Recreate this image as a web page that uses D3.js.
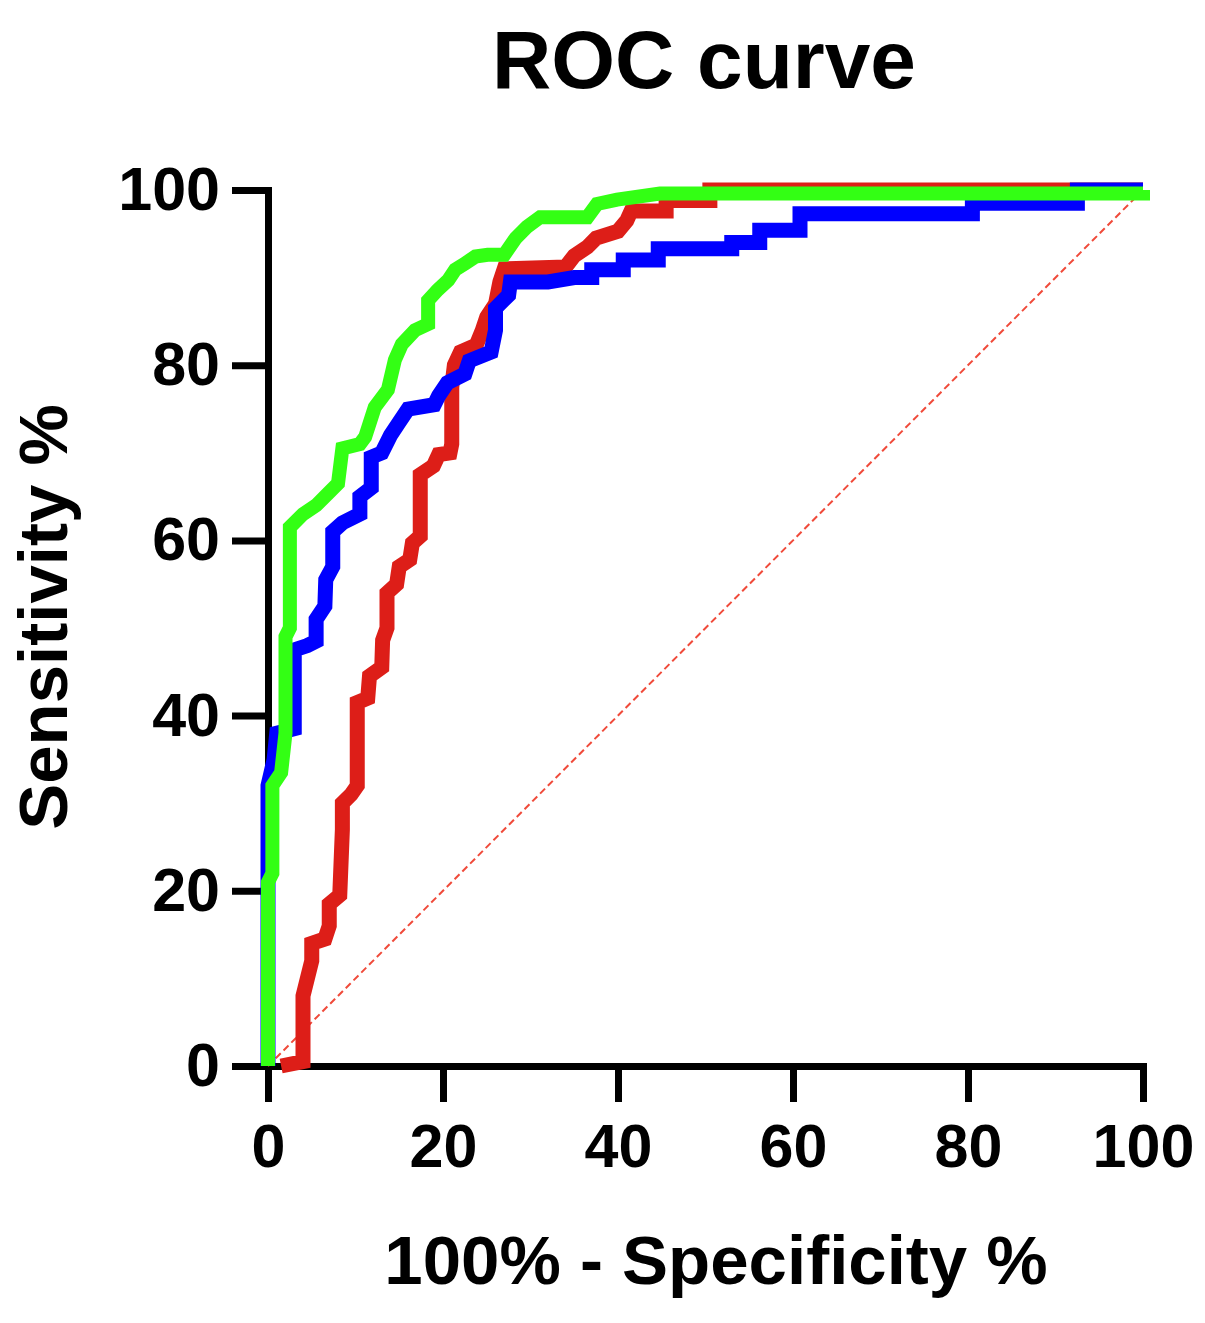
<!DOCTYPE html>
<html lang="en">
<head>
<meta charset="UTF-8">
<title>ROC curve</title>
<script src="https://cdn.jsdelivr.net/npm/d3@7/dist/d3.min.js"></script>
<style>
    body{margin:0;background:#fff;}
    svg text{font-family:"Liberation Sans",Arial,Helvetica,sans-serif;font-weight:bold;fill:#000;}
</style>
</head>
<body>
<svg id="chart"></svg>
<script>
    // ticks
    var xTicks=[0,20,40,60,80,100];
    var yTicks=[0,20,40,60,80,100];

    // [100% - specificity, sensitivity]
    var redPoints=[[1.5,0],[4,0.5],[4,8],[4.5,10],[5,12],[5,14],[6.5,14.5],[7,16],[7,18.5],[8.2,19.5],
        [8.5,27],[8.5,30],[9.5,31],[10.2,32],[10.2,41.5],[11.4,42],[11.6,44.5],[13,45.5],[13.1,48.6],
        [13.6,50],[13.6,54],[14.7,55],[15,57],[16.2,57.8],[16.5,59.7],[17.4,60.5],[17.4,67.5],[18.9,68.5],
        [19.5,69.8],[20.8,70],[21,71],[21,77.5],[21.3,80],[22,81.5],[23.8,82.3],[24.5,84],[25,85.5],
        [26,87],[26.5,89.5],[27,91],[34,91.2],[35,92.5],[36.5,93.5],[37.5,94.5],[40,95.3],[41,96.5],
        [41.5,97.6],[45.5,97.6],[45.5,98.8],[50.5,98.8],[50.5,100],[100,100]];
    var bluePoints=[[0,0],[0,21],[0,32],[0.7,35],[1,38],[3,38.5],[3,47.5],[4.5,48],[5.5,48.5],[5.5,51],
        [6.5,52.5],[6.6,55.5],[7.4,57],[7.4,61],[8.5,62],[10.5,63],[10.5,65],[11.8,66],[11.8,69.5],
        [13,70],[14,72],[15,73.5],[16,75],[19,75.5],[19.5,76.5],[20.5,78],[22.5,79],[23,80.5],[25.5,81.5],
        [26,84],[26,86.5],[27.5,88],[27.7,89.5],[32,89.5],[35,90],[37,90],[37,90.9],[40.6,90.9],[40.6,92],
        [44.6,92],[44.6,93.3],[53,93.3],[53,94],[56.2,94],[56.2,95.4],[60.8,95.4],[60.8,97.3],[80.5,97.3],
        [80.5,98.5],[92.5,98.5],[92.5,100],[100,100]];
    var greenPoints=[[0,0],[0,21],[0.5,22],[0.5,32],[1.5,33.5],[2,38],[2,49],[2.5,50],[2.5,61.5],[4,63],
        [5.5,64],[7,65.5],[8,66.5],[8.5,70.5],[10.5,71],[11.1,71.8],[12.2,75.2],[13.7,77.2],[14.5,80.6],
        [15.3,82.4],[16.8,84],[18.3,84.7],[18.3,87.4],[19.4,88.6],[20.6,89.7],[21.4,90.9],[22.5,91.6],
        [23.7,92.4],[25.1,92.6],[27,92.6],[28.3,94.5],[29.6,95.8],[31.1,96.9],[36.5,96.9],[37.6,98.4],
        [39.9,98.9],[44.8,99.6],[100,99.6],[100,100]];
    var refPoints=[[0,0],[100,100]];

    var width=1205,height=1323;
    var plotLeft=268,plotRight=1143,plotTop=190,plotBottom=1066;

    var svg=d3.select("#chart")
        .attr("width",width)
        .attr("height",height);

    var x=d3.scaleLinear().domain([0,100]).range([plotLeft,plotRight]);
    var y=d3.scaleLinear().domain([0,100]).range([plotBottom,plotTop]);

    // title
    svg.append("text")
        .attr("x",704)
        .attr("y",88)
        .attr("text-anchor","middle")
        .style("font-size","82px")
        .text("ROC curve");

    // axes
    var xAxis=svg.append("g")
        .attr("transform","translate(0,"+plotBottom+")")
        .call(d3.axisBottom(x).tickValues(xTicks).tickSize(36).tickSizeOuter(0).tickPadding(22));
    var yAxis=svg.append("g")
        .attr("transform","translate("+plotLeft+",0)")
        .call(d3.axisLeft(y).tickValues(yTicks).tickSize(36).tickSizeOuter(0).tickPadding(12));

    [xAxis,yAxis].forEach(function(a){
        a.select(".domain").attr("stroke","#000").attr("stroke-width",7).attr("stroke-linecap","square");
        a.selectAll(".tick line").attr("stroke","#000").attr("stroke-width",7);
        a.selectAll(".tick text")
            .style("font-size","61px")
            .style("font-family","'Liberation Sans',Arial,sans-serif")
            .style("font-weight","bold")
            .attr("fill","#000");
    });

    // axis titles
    svg.append("text")
        .attr("x",716)
        .attr("y",1284)
        .attr("text-anchor","middle")
        .style("font-size","69px")
        .text("100% - Specificity %");
    svg.append("text")
        .attr("transform","translate(67,617) rotate(-90)")
        .attr("text-anchor","middle")
        .style("font-size","69px")
        .text("Sensitivity %");

    var line=d3.line()
        .x(function(d){return x(d[0]);})
        .y(function(d){return y(d[1]);});

    // reference diagonal
    svg.append("path")
        .datum(refPoints)
        .attr("d",line)
        .attr("fill","none")
        .attr("stroke","#f04a3a")
        .attr("stroke-width",2)
        .attr("stroke-dasharray","7,4");

    // curves: red under blue under green
    var series=[
        {pts:redPoints,color:"#dd1e18",w:15},
        {pts:bluePoints,color:"#0000ff",w:15},
        {pts:greenPoints,color:"#33ff14",w:14}
    ];
    series.forEach(function(s){
        svg.append("path")
            .datum(s.pts)
            .attr("d",line)
            .attr("fill","none")
            .attr("stroke",s.color)
            .attr("stroke-width",s.w)
            .attr("stroke-linejoin","miter")
            .attr("stroke-miterlimit",2);
    });
</script>
</body>
</html>
